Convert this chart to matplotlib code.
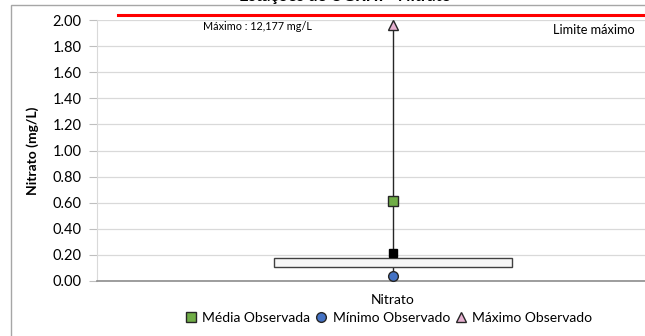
import matplotlib
matplotlib.use("Agg")
import matplotlib.pyplot as plt
from matplotlib.lines import Line2D
from matplotlib.patches import Rectangle
import matplotlib.transforms as mtransforms

plt.rcParams['font.family'] = ['Lato', 'DejaVu Sans']

# ---- data ----
category = "Nitrato"
q1 = 0.105
q3 = 0.18
upper_mark = 0.217
mean_obs = 0.613
min_obs = 0.035
max_obs = 12.177
max_display = 1.96
axis_max = 2.0
limit_value = 2.04
yticks = [0.0, 0.2, 0.4, 0.6, 0.8, 1.0, 1.2, 1.4, 1.6, 1.8, 2.0]
ytick_labels = ["0.00", "0.20", "0.40", "0.60", "0.80", "1.00", "1.20", "1.40", "1.60", "1.80", "2.00"]
legend_labels = ["Média Observada", "Mínimo Observado", "Máximo Observado"]

W, H = 645, 336
fig = plt.figure(figsize=(W / 100, H / 100), dpi=100)

# outer chart frame (cropped at right/bottom)
fig.patches.append(Rectangle((11 / W, -0.1), 1.2, (H - 5) / H + 0.1, transform=fig.transFigure,
                             fill=False, edgecolor="#a6a6a6", lw=1.0))

# partial title (cut off at top, as in the reference)
fig.text(345 / W, (H + 4) / H, "Estações de UGRHI - Nitrato", ha="center", va="center",
         fontsize=12, fontweight="bold", color="black")

left = 97 / W
right = 689 / W
bottom = (H - 281) / H
top = (H - 20) / H
ax = fig.add_axes([left, bottom, right - left, top - bottom])

ax.set_xlim(0, 1)
ax.set_ylim(0, axis_max)
xc = 0.5
bw = 238 / 592

ax.set_yticks(yticks)
ax.set_yticklabels(ytick_labels, fontsize=10.5)
ax.yaxis.grid(True, color="#d9d9d9", lw=0.9)
ax.set_axisbelow(True)
ax.set_xticks([xc])
ax.set_xticklabels([category], fontsize=10)
ax.tick_params(axis="x", length=0, pad=9)
ax.tick_params(axis="y", length=6, color="#bfbfbf", width=0.8, pad=5)
for s in ["top", "right"]:
    ax.spines[s].set_visible(False)
ax.spines["left"].set_color("#d9d9d9")
ax.spines["bottom"].set_color("#8c8c8c")
ax.spines["bottom"].set_linewidth(1.2)

ax.set_ylabel("Nitrato (mg/L)", fontsize=10, fontweight="bold", labelpad=10)

# whisker line min -> max (clipped to axis max)
ax.plot([xc, xc], [min_obs, max_display], color="#262626", lw=1.0, zorder=2)
# box
ax.add_patch(Rectangle((xc - bw / 2, q1), bw, q3 - q1, facecolor="#f7f7f7",
                       edgecolor="#404040", lw=1.0, zorder=3))
ax.plot([xc], [upper_mark], marker="s", color="black", markersize=6, zorder=4, linestyle="none")
ax.plot([xc], [mean_obs], marker="s", markerfacecolor="#70ad47", markeredgecolor="#262626",
        markersize=7.5, zorder=4, linestyle="none")
ax.plot([xc], [min_obs], marker="o", markerfacecolor="#4472c4", markeredgecolor="#262626",
        markersize=7, zorder=5, linestyle="none", clip_on=False)
ax.plot([xc], [max_display], marker="^", markerfacecolor="#e6b0d0", markeredgecolor="#262626",
        markersize=7.5, zorder=5, linestyle="none", clip_on=False)

# limit line
ax.axhline(limit_value, xmin=21 / 592, xmax=1, color="#ff0000", lw=2.2, clip_on=False, zorder=6)

ax.text(0.363, 1.95, "Máximo : " + f"{max_obs:.3f}".replace(".", ",") + " mg/L", ha="right", va="center",
        fontsize=7.8, transform=mtransforms.blended_transform_factory(ax.transAxes, ax.transData))
ax.text(0.770, 1.92, "Limite máximo", ha="left", va="center", fontsize=9.2,
        transform=mtransforms.blended_transform_factory(ax.transAxes, ax.transData), clip_on=False)

handles = [
    Line2D([], [], marker="s", linestyle="none", markerfacecolor="#70ad47", markeredgecolor="#262626", markersize=7),
    Line2D([], [], marker="o", linestyle="none", markerfacecolor="#4472c4", markeredgecolor="#262626", markersize=7),
    Line2D([], [], marker="^", linestyle="none", markerfacecolor="#e6b0d0", markeredgecolor="#262626", markersize=7),
]
fig.legend(handles, legend_labels, loc="center", bbox_to_anchor=(389 / W, (H - 318) / H), ncol=3,
           frameon=False, fontsize=10, handlelength=0.8, handletextpad=0.4, columnspacing=0.4,
           borderaxespad=0)

fig.savefig("out.png", dpi=100)
